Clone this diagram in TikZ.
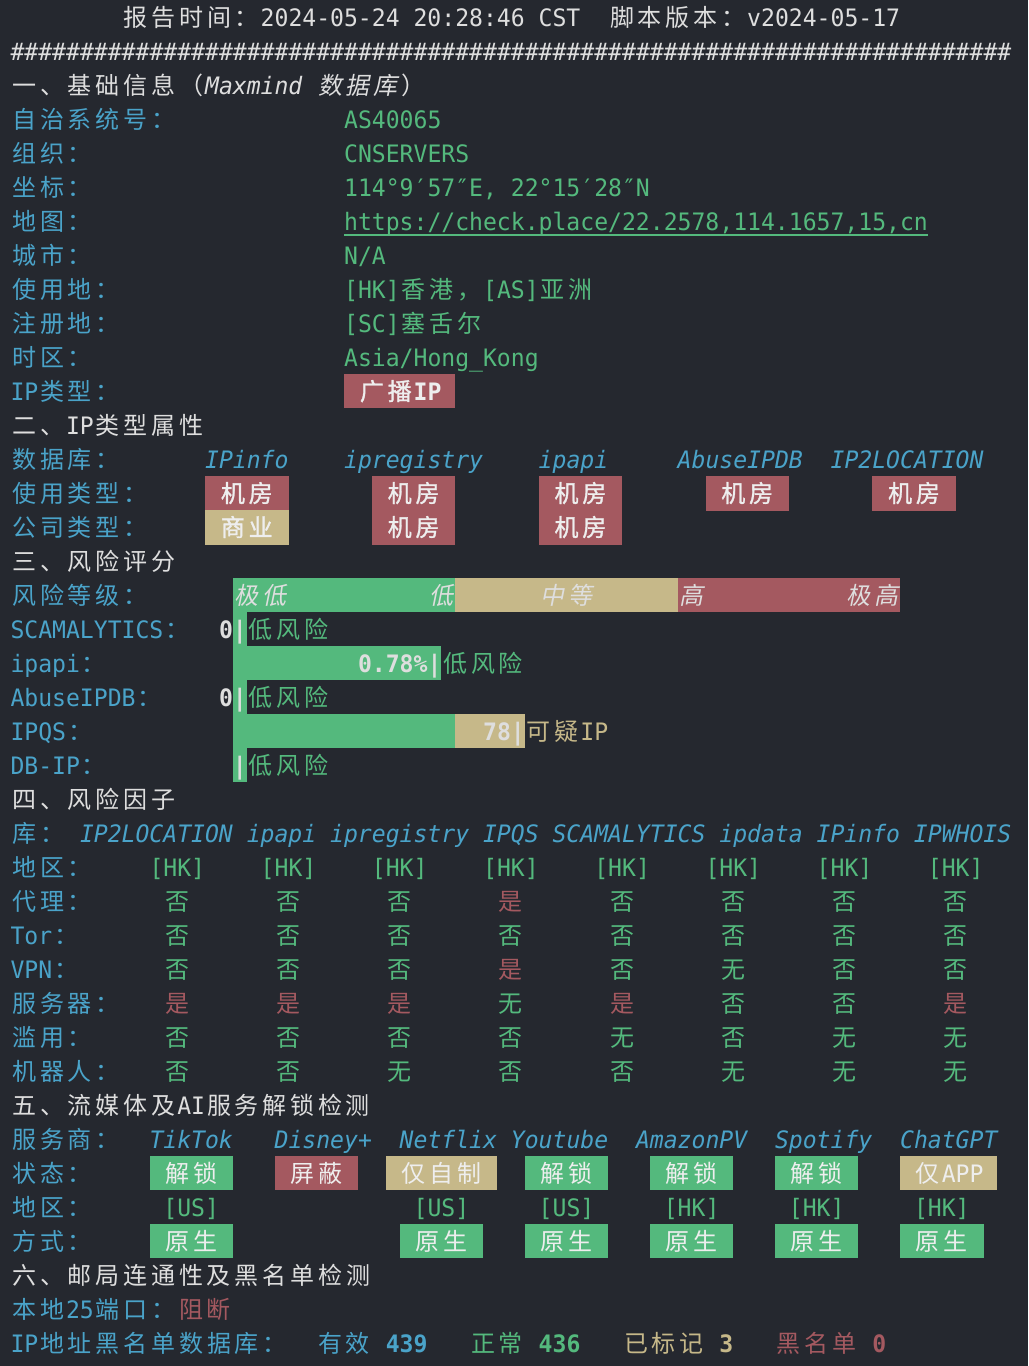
\documentclass[tikz,border=0pt]{standalone}
\usepackage{fontspec}
\newfontfamily\termfont{DejaVu Sans Mono}[FakeStretch=0.962]
\newfontfamily\cjkfont{Noto Sans CJK SC}
\newfontfamily\cjkslant{Noto Sans CJK SC}[FakeSlant=0.2]
\newfontfamily\cjkbold{Noto Sans CJK SC}[FakeBold=1.2]
\newcommand\termsize{\fontsize{18pt}{25.5pt}\selectfont}
% one CJK character = two terminal cells
\newlength\cjkw \setlength\cjkw{20.85pt}
\let\cjkcur\cjkfont
\let\zhend\relax
\newcommand\zh[1]{\expandafter\zhloop#1\zhend}
\newcommand\zhloop[1]{\ifx\zhend#1\else\makebox[\cjkw][c]{\upshape\mdseries\cjkcur#1}\expandafter\zhloop\fi}

\definecolor{termbg}{RGB}{37,40,47}
\definecolor{termfg}{RGB}{222,222,222}
\definecolor{termcyan}{RGB}{74,163,201}
\definecolor{termgreen}{RGB}{84,185,125}
\definecolor{termred}{RGB}{164,89,96}
\definecolor{termtan}{RGB}{198,184,137}
\definecolor{tagfg}{RGB}{238,238,238}

\tikzset{
  txt/.style={anchor=base west, inner sep=0pt, outer sep=0pt, font=\termfont\termsize, text=#1},
  txt/.default=termfg,
  lbl/.style={txt=termcyan},
  val/.style={txt=termgreen},
  ital/.style={txt=#1, font=\termfont\termsize\itshape\let\cjkcur\cjkslant},
  ital/.default=termcyan,
  num/.style={txt=#1, font=\termfont\termsize\bfseries},
  num/.default=termfg,
  boxb/.style={txt=tagfg, font=\termfont\termsize\bfseries\let\cjkcur\cjkbold},
  boxr/.style={txt=tagfg}
}

\begin{document}
\begin{tikzpicture}[x=10.425pt,y=-25.5pt]
  % Screen
  \useasboundingbox[fill=termbg] (-0.7554,0) rectangle (73.2014,40.1765);
  % Header
  \node[txt] (title) at (8,0.77) {\zh{报告时间：}2024-05-24 20:28:46 CST};
  \node[txt] (version) at (43,0.77) {\zh{脚本版本：}v2024-05-17};
  \foreach \cl in {0,...,71}
    \node[txt] (hash-\cl) at (\cl,1.77) {\#};

  % Basic info
  \node[txt] (sec1) at (0,2.77) {\zh{一、基础信息（}};
  \node[ital=termfg] (maxmind) at (14,2.77) {Maxmind};
  \node[ital=termfg] (maxdb) at (22,2.77) {\zh{数据库}};
  \node[txt] (sec1end) at (28,2.77) {\zh{）}};
  \node[lbl] (asn-l) at (0,3.77) {\zh{自治系统号：}};
  \node[val] (asn) at (24,3.77) {AS40065};
  \node[lbl] (org-l) at (0,4.77) {\zh{组织：}};
  \node[val] (org) at (24,4.77) {CNSERVERS};
  \node[lbl] (coord-l) at (0,5.77) {\zh{坐标：}};
  \node[val] (coord) at (24,5.77) {114°9′57″E, 22°15′28″N};
  \node[lbl] (map-l) at (0,6.77) {\zh{地图：}};
  \node[val] (map) at (24,6.77) {https://check.place/22.2578,114.1657,15,cn};
  \draw[termgreen,line width=1.5pt] ([yshift=-3.6pt]map.base west) -- ([yshift=-3.6pt]map.base east);
  \node[lbl] (city-l) at (0,7.77) {\zh{城市：}};
  \node[val] (city) at (24,7.77) {N/A};
  \node[lbl] (use-l) at (0,8.77) {\zh{使用地：}};
  \node[val] (use) at (24,8.77) {[HK]\zh{香港，}[AS]\zh{亚洲}};
  \node[lbl] (reg-l) at (0,9.77) {\zh{注册地：}};
  \node[val] (reg) at (24,9.77) {[SC]\zh{塞舌尔}};
  \node[lbl] (tz-l) at (0,10.77) {\zh{时区：}};
  \node[val] (tz) at (24,10.77) {Asia/Hong\_Kong};
  \node[lbl] (iptype-l) at (0,11.77) {IP\zh{类型：}};
  \fill[termred] (24,11) rectangle (32,12);
  \node[boxb] (iptype) at (25,11.77) {\zh{广播}IP};

  % IP type
  \node[txt] (sec2) at (0,12.77) {\zh{二、}IP\zh{类型属性}};
  \node[lbl] (db-l) at (0,13.77) {\zh{数据库：}};
  \foreach \cl/\nm in {14/IPinfo,24/ipregistry,38/ipapi,48/AbuseIPDB,59/IP2LOCATION}
    \node[ital] (db-\cl) at (\cl,13.77) {\nm};
  \node[lbl] (usage-l) at (0,14.77) {\zh{使用类型：}};
  \node[lbl] (comp-l) at (0,15.77) {\zh{公司类型：}};
  \foreach \a/\r/\fc/\tx in {14/14/termred/\zh{机房},26/14/termred/\zh{机房},38/14/termred/\zh{机房},
      50/14/termred/\zh{机房},62/14/termred/\zh{机房},14/15/termtan/\zh{商业},
      26/15/termred/\zh{机房},38/15/termred/\zh{机房}} {
    \fill[\fc] (\a,\r) rectangle (\a+6,\r+1.02);
    \node[boxb] (type-\r-\a) at (\a+1,\r+0.77) {\tx};
  }

  % Risk scores
  \node[txt] (sec3) at (0,16.77) {\zh{三、风险评分}};
  \node[lbl] (level-l) at (0,17.77) {\zh{风险等级：}};
  \fill[termgreen] (16,17) rectangle (32,18);
  \fill[termtan] (32,17) rectangle (48,18);
  \fill[termred] (48,17) rectangle (64,18);
  \node[ital=termfg] (lv-1) at (16,17.77) {\zh{极低}};
  \node[ital=termfg] (lv-2) at (30,17.77) {\zh{低}};
  \node[ital=termfg] (lv-3) at (38,17.77) {\zh{中等}};
  \node[ital=termfg] (lv-4) at (48,17.77) {\zh{高}};
  \node[ital=termfg] (lv-5) at (60,17.77) {\zh{极高}};
  \fill[termgreen] (16,17.98) rectangle (17,23);
  \fill[termgreen] (16,19) rectangle (31,20);
  \fill[termgreen] (16,21) rectangle (32,22);
  \fill[termtan] (32,21) rectangle (37,22);
  \node[lbl] (scam-l) at (0,18.77) {SCAMALYTICS\zh{：}};
  \node[num] (scam) at (15,18.77) {0|};
  \node[val] (scam-r) at (17,18.77) {\zh{低风险}};
  \node[lbl] (ipapi-l) at (0,19.77) {ipapi\zh{：}};
  \node[num] (ipapi) at (25,19.77) {0.78\%|};
  \node[val] (ipapi-r) at (31,19.77) {\zh{低风险}};
  \node[lbl] (abuse-l) at (0,20.77) {AbuseIPDB\zh{：}};
  \node[num] (abuse) at (15,20.77) {0|};
  \node[val] (abuse-r) at (17,20.77) {\zh{低风险}};
  \node[lbl] (ipqs-l) at (0,21.77) {IPQS\zh{：}};
  \node[num] (ipqs) at (34,21.77) {78|};
  \node[txt=termtan] (ipqs-r) at (37,21.77) {\zh{可疑}IP};
  \node[lbl] (dbip-l) at (0,22.77) {DB-IP\zh{：}};
  \node[num] (dbip) at (16,22.77) {|};
  \node[val] (dbip-r) at (17,22.77) {\zh{低风险}};

  % Risk factors
  \node[txt] (sec4) at (0,23.77) {\zh{四、风险因子}};
  \node[lbl] (lib-l) at (0,24.77) {\zh{库：}};
  \node[ital] (libs) at (5,24.77) {IP2LOCATION ipapi ipregistry IPQS SCAMALYTICS ipdata IPinfo IPWHOIS};
  \node[lbl] (area-l) at (0,25.77) {\zh{地区：}};
  \foreach \cl in {0,...,7}
    \node[val] (area-\cl) at ({10+8*\cl},25.77) {[HK]};
  \node[lbl] (proxy-l) at (0,26.77) {\zh{代理：}};
  \node[lbl] (tor-l) at (0,27.77) {Tor\zh{：}};
  \node[lbl] (vpn-l) at (0,28.77) {VPN\zh{：}};
  \node[lbl] (server-l) at (0,29.77) {\zh{服务器：}};
  \node[lbl] (abuser-l) at (0,30.77) {\zh{滥用：}};
  \node[lbl] (robot-l) at (0,31.77) {\zh{机器人：}};
  \foreach \r/\vals in {26/{否,否,否,是,否,否,否,否},27/{否,否,否,否,否,否,否,否},
      28/{否,否,否,是,否,无,否,否},29/{是,是,是,无,是,否,否,是},
      30/{否,否,否,否,无,否,无,无},31/{否,否,无,否,否,无,无,无}}
    \foreach \v [count=\cl from 0] in \vals {
      \if\v 是\def\vcol{termred}\else\def\vcol{termgreen}\fi
      \node[txt=\vcol] (fac-\r-\cl) at ({11+8*\cl},\r+0.77) {\zh{\v}};
    }

  % Streaming unlock
  \node[txt] (sec5) at (0,32.77) {\zh{五、流媒体及}AI\zh{服务解锁检测}};
  \node[lbl] (svc-l) at (0,33.77) {\zh{服务商：}};
  \foreach \cl/\nm in {10/TikTok,19/Disney+,28/Netflix,36/Youtube,45/AmazonPV,55/Spotify,64/ChatGPT}
    \node[ital] (svc-\cl) at (\cl,33.77) {\nm};
  \node[lbl] (state-l) at (0,34.77) {\zh{状态：}};
  \node[lbl] (svcarea-l) at (0,35.77) {\zh{地区：}};
  \node[lbl] (mode-l) at (0,36.77) {\zh{方式：}};
  \foreach \a/\b/\r/\fc/\tx in {10/16/34/termgreen/\zh{解锁},19/25/34/termred/\zh{屏蔽},
      27/35/34/termtan/\zh{仅自制},37/43/34/termgreen/\zh{解锁},46/52/34/termgreen/\zh{解锁},
      55/61/34/termgreen/\zh{解锁},64/71/34/termtan/{\zh{仅}APP},
      10/16/36/termgreen/\zh{原生},28/34/36/termgreen/\zh{原生},37/43/36/termgreen/\zh{原生},
      46/52/36/termgreen/\zh{原生},55/61/36/termgreen/\zh{原生},64/70/36/termgreen/\zh{原生}} {
    \fill[\fc] (\a,\r) rectangle (\b,\r+1);
    \node[boxr] (unlock-\r-\a) at (\a+1,\r+0.77) {\tx};
  }
  \foreach \cl/\cc in {11/US,29/US,38/US,47/HK,56/HK,65/HK}
    \node[val] (svcarea-\cl) at (\cl,35.77) {[\cc]};

  % Mail
  \node[txt] (sec6) at (0,37.77) {\zh{六、邮局连通性及黑名单检测}};
  \node[lbl] (smtp-l) at (0,38.77) {\zh{本地}25\zh{端口：}};
  \node[txt=termred] (smtp) at (12,38.77) {\zh{阻断}};
  \node[lbl] (bl-l) at (0,39.77) {IP\zh{地址黑名单数据库：}};
  \node[lbl] (bl-valid) at (22,39.77) {\zh{有效} \textbf{439}};
  \node[val] (bl-clean) at (33,39.77) {\zh{正常} \textbf{436}};
  \node[txt=termtan] (bl-flag) at (44,39.77) {\zh{已标记} \textbf{3}};
  \node[txt=termred] (bl-black) at (55,39.77) {\zh{黑名单} \textbf{0}};
\end{tikzpicture}
\end{document}
